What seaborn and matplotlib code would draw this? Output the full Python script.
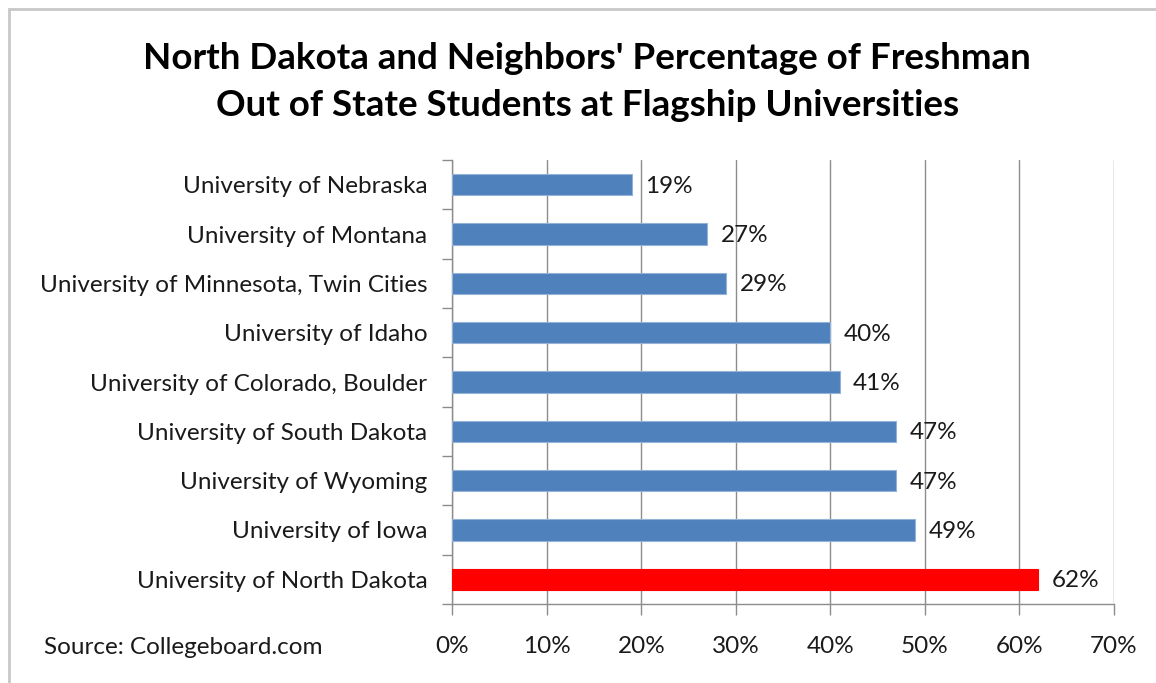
import matplotlib
matplotlib.use("Agg")
import matplotlib.pyplot as plt
import numpy as np
import pandas as pd
import seaborn as sns
from matplotlib.patches import Rectangle
from matplotlib.ticker import FuncFormatter, FixedLocator

universities = [
    'University of Nebraska',
    'University of Montana',
    'University of Minnesota, Twin Cities',
    'University of Idaho',
    'University of Colorado, Boulder',
    'University of South Dakota',
    'University of Wyoming',
    'University of Iowa',
    'University of North Dakota',
]
pct_out_of_state = [19, 27, 29, 40, 41, 47, 47, 49, 62]
bar_colors = ['#4F81BD'] * 8 + ['#FF0000']
x_ticks = [0, 10, 20, 30, 40, 50, 60, 70]

df = pd.DataFrame({'school': universities, 'pct': pct_out_of_state})

sns.set_style('white')
plt.rcParams['font.family'] = ['Lato', 'DejaVu Sans']

fig = plt.figure(figsize=(11.56, 6.83), dpi=100)
ax = fig.add_axes([0.3913, 0.1157, 0.9635 - 0.3913, 0.7657 - 0.1157])

sns.barplot(data=df, x='pct', y='school', hue='school', palette=bar_colors,
            legend=False, width=0.43, ax=ax, zorder=3, saturation=1)
for p, c in zip(ax.patches, bar_colors):
    p.set_edgecolor('#95B3D7' if c != '#FF0000' else '#FF0000')
    p.set_linewidth(0.8)

for i, v in enumerate(pct_out_of_state):
    ax.text(v + 1.4, i + 0.03, f'{v}%', va='center', ha='left', fontsize=17.5, color='#1a1a1a')

ax.set_xlim(0, 70)
ax.set_ylim(len(universities) - 0.5, -0.5)
ax.xaxis.set_major_locator(FixedLocator(x_ticks))
ax.xaxis.set_major_formatter(FuncFormatter(lambda v, _: f'{v:.0f}%'))
ax.grid(axis='x', color='#8C8C8C', linewidth=1.0, zorder=0)
ax.set_axisbelow(True)

ax.yaxis.set_minor_locator(FixedLocator(np.arange(-0.5, len(universities), 1.0)))
ax.tick_params(axis='y', which='major', length=0, pad=18, labelsize=17.5, labelcolor='#1a1a1a')
ax.tick_params(axis='y', which='minor', length=7, width=1, color='#8C8C8C', left=True)
ax.tick_params(axis='x', which='major', length=8, width=1, color='#8C8C8C', bottom=True,
               pad=15, labelsize=17.5, labelcolor='#1a1a1a')

ax.set_xlabel('')
ax.set_ylabel('')
for side in ['top', 'right']:
    ax.spines[side].set_visible(False)
for side in ['left', 'bottom']:
    ax.spines[side].set_color('#8C8C8C')
    ax.spines[side].set_linewidth(1)

fig.text(0.508, 0.915, "North Dakota and Neighbors' Percentage of Freshman",
         ha='center', va='center', fontsize=26.5, fontweight='bold', color='#000000')
fig.text(0.508, 0.845, 'Out of State Students at Flagship Universities',
         ha='center', va='center', fontsize=26.5, fontweight='bold', color='#000000')
fig.text(0.038, 0.052, 'Source: Collegeboard.com', ha='left', va='center',
         fontsize=17.5, color='#1a1a1a')

fig.patches.append(Rectangle((9 / 1156, -0.1), 1.2, 1 - 9 / 683 + 0.1,
                             transform=fig.transFigure, fill=False,
                             edgecolor='#C8C8C8', linewidth=2))

fig.savefig('out.png', dpi=100)
